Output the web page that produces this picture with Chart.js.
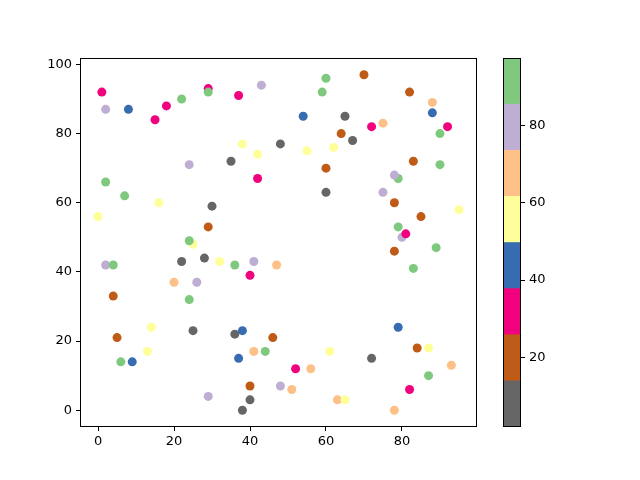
<!DOCTYPE html>
<html>
<head>
<meta charset="utf-8">
<script src="https://cdn.jsdelivr.net/npm/chart.js@4"></script>
<style>
  body { margin:0; background:#fff; }
  #wrap { position:relative; width:640px; height:480px; }
  #wrap canvas { position:absolute; left:0; top:0; }
</style>
</head>
<body>
<div id="wrap">
  <canvas id="scatter" width="640" height="480"></canvas>
  <canvas id="cbar" width="640" height="480"></canvas>
</div>
<script>
// valores (x, y, cor)
const xs = [1,2,8,15,18,22,29,29,37,43,38,42,48,24,35,42,60,70,59,82,88,88,54,65,72,75,92,90,64,67,55,62,60,83,90,79,78,2,7,16,0,30,29,25,24,2,4,22,28,32,36,41,47,40,20,26,4,24,60,75,78,95,85,79,80,81,89,78,83,14,5,25,36,38,46,13,6,9,37,41,44,40,48,29,40,38,79,61,72,84,87,52,56,93,87,51,82,63,65,78];
const ys = [92,87,87,84,88,90,93,92,91,94,77,74,77,71,72,67,96,97,92,92,89,86,85,85,82,83,82,80,80,78,75,76,70,72,71,67,68,66,62,60,56,59,53,48,49,42,42,43,44,43,42,43,42,39,37,37,33,32,63,63,60,58,56,53,50,51,47,46,41,24,21,23,22,23,21,17,14,14,15,17,17,7,7,4,3,0,24,17,15,18,18,12,12,13,10,6,6,3,3,0];
const cs = [32,80,44,32,32,92,32,92,32,80,56,56,8,80,8,32,92,20,92,20,68,44,44,8,32,68,32,92,20,8,56,56,20,20,92,92,80,92,92,56,56,8,20,56,92,80,92,8,8,56,92,80,68,32,68,80,20,92,8,80,20,56,20,92,80,32,92,20,92,56,20,8,8,44,20,56,92,44,44,68,92,20,80,80,8,8,44,56,8,20,56,32,68,68,92,68,32,68,56,68];

// Accent_r
const cmapColors = ['#666666','#bf5b17','#f0027f','#386cb0','#ffff99','#fdc086','#beaed4','#7fc97f'];
const cMin = 2, cMax = 97.4;
const cbarTicks = [20,40,60,80];
const xTicks = [0,20,40,60,80];
const yTicks = [0,20,40,60,80,100];

function colorFor(c){
  const n = cmapColors.length;
  let i = Math.floor((c - cMin) / (cMax - cMin) * n);
  i = Math.max(0, Math.min(n - 1, i));
  return cmapColors[i];
}

const FONT = { family:'DejaVu Sans', size:13 };

const frame = {
  id:'frame',
  afterDraw(chart){
    const a = chart.chartArea, ctx = chart.ctx;
    ctx.save();
    ctx.strokeStyle = '#000';
    ctx.lineWidth = 1;
    ctx.strokeRect(Math.round(a.left)+0.5, Math.round(a.top)+0.5, Math.round(a.right-a.left)-1, Math.round(a.bottom-a.top)-1);
    ctx.restore();
  }
};

const tickGrid = { display:true, drawOnChartArea:false, drawTicks:true, tickLength:4, color:'#000', tickWidth:1 };

new Chart(document.getElementById('scatter'), {
  type:'scatter',
  data:{
    datasets:[{
      data: xs.map((x,i) => ({ x, y: ys[i] })),
      pointBackgroundColor: cs.map(colorFor),
      pointBorderWidth:0,
      pointRadius:4.5,
      pointHoverRadius:4.5
    }]
  },
  options:{
    responsive:false,
    animation:false,
    layout:{ padding:{ top:58, right:163, bottom:23, left:40 } },
    plugins:{ legend:{ display:false }, tooltip:{ enabled:false } },
    scales:{
      x:{
        type:'linear', min:-4.75, max:99.75,
        grid: tickGrid,
        border:{ display:false },
        afterFit:(s)=>{ s.height = 30; },
        afterBuildTicks:(s)=>{ s.ticks = xTicks.map(v => ({ value:v })); },
        ticks:{ color:'#000', font:FONT, padding:3, maxRotation:0 }
      },
      y:{
        type:'linear', min:-4.85, max:101.85,
        grid: tickGrid,
        border:{ display:false },
        afterFit:(s)=>{ s.width = 40; },
        afterBuildTicks:(s)=>{ s.ticks = yTicks.map(v => ({ value:v })); },
        ticks:{ color:'#000', font:FONT, padding:4 }
      }
    }
  },
  plugins:[frame]
});

// barra de cores
const step = (cMax - cMin) / cmapColors.length;
new Chart(document.getElementById('cbar'), {
  type:'bar',
  data:{
    labels:[''],
    datasets: cmapColors.map((col, i) => ({
      data:[[cMin + i*step, cMin + (i+1)*step]],
      backgroundColor: col,
      borderWidth:0,
      barPercentage:1,
      categoryPercentage:1,
      grouped:false
    }))
  },
  options:{
    responsive:false,
    animation:false,
    layout:{ padding:{ top:58, right:79, bottom:53, left:503 } },
    plugins:{ legend:{ display:false }, tooltip:{ enabled:false } },
    scales:{
      x:{ display:false },
      y:{
        position:'right', min:cMin, max:cMax,
        grid: tickGrid,
        border:{ display:false },
        afterFit:(s)=>{ s.width = 40; },
        afterBuildTicks:(s)=>{ s.ticks = cbarTicks.map(v => ({ value:v })); },
        ticks:{ color:'#000', font:FONT, padding:4 }
      }
    }
  },
  plugins:[frame]
});
</script>
</body>
</html>
